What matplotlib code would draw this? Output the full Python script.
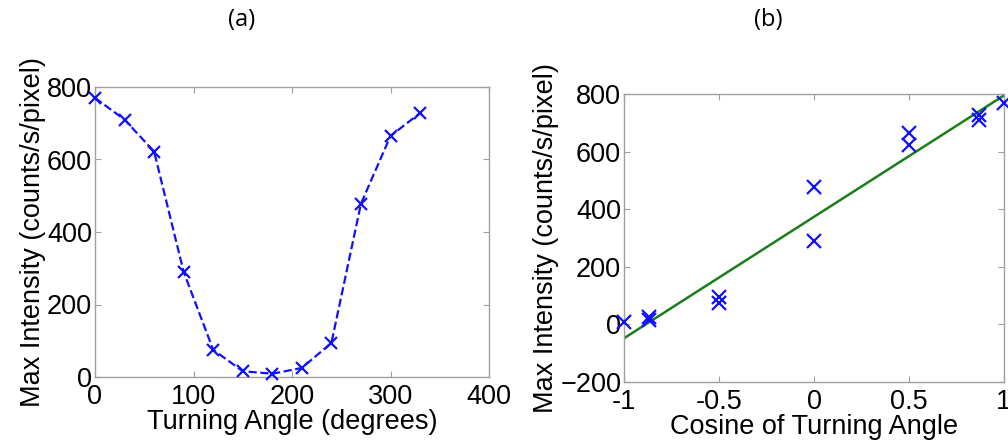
import numpy as np
import matplotlib
matplotlib.use("Agg")
import matplotlib.pyplot as plt

# Data
angles_deg = [0, 30, 60, 90, 120, 150, 180, 210, 240, 270, 300, 330]
intensity = [770, 710, 622, 290, 75, 16, 9, 25, 94, 478, 665, 728]
cos_angle = np.cos(np.deg2rad(angles_deg))

xticks_a = [0, 100, 200, 300, 400]
yticks_a = [0, 200, 400, 600, 800]
xticks_b = [-1, -0.5, 0, 0.5, 1]
xticklabels_b = ["-1", "-0.5", "0", "0.5", "1"]
yticks_b = [-200, 0, 200, 400, 600, 800]

plt.rcParams['font.family'] = ['Liberation Sans', 'DejaVu Sans']

fig = plt.figure(figsize=(10.08, 4.4), dpi=100)
W, H = 1008, 440

def add_ax(x0, x1, y0, y1):
    return fig.add_axes([x0 / W, (H - y1) / H, (x1 - x0) / W, (y1 - y0) / H])

axa = add_ax(95, 489, 87, 377)
axb = add_ax(624, 1004, 94, 382)

blue = '#1010ff'
green = '#1a7f1a'

axa.plot(angles_deg, intensity, linestyle='--', color=blue, lw=1.6,
         marker='x', markersize=9, markeredgewidth=1.6, clip_on=False, zorder=3)
axa.set_xlim(0, 400)
axa.set_ylim(0, 800)
axa.set_xticks(xticks_a)
axa.set_yticks(yticks_a)

axb.plot(cos_angle, intensity, linestyle='none', color=blue,
         marker='x', markersize=10, markeredgewidth=1.6, clip_on=False, zorder=3)
slope, icpt = np.polyfit(cos_angle, intensity, 1)
xf = np.array([-1.0, 1.0])
axb.plot(xf, slope * xf + icpt, color=green, lw=1.8, zorder=2)
axb.set_xlim(-1, 1)
axb.set_ylim(-200, 800)
axb.set_xticks(xticks_b)
axb.set_xticklabels(xticklabels_b)
axb.set_yticks(yticks_b)

fs = 19.5
for ax in (axa, axb):
    for s in ax.spines.values():
        s.set_color('#a0a0a0')
        s.set_linewidth(1.0)
    ax.tick_params(direction='in', length=4, width=0.8, color='#a0a0a0',
                   top=True, right=True, labelsize=fs, labelcolor='black')
    ax.tick_params(axis='x', pad=5)
    ax.tick_params(axis='y', pad=2)

axa.set_xlabel('Turning Angle (degrees)', fontsize=fs, labelpad=-1)
axa.set_ylabel('Max Intensity (counts/s/pixel)', fontsize=fs, labelpad=1)
axb.set_xlabel('Cosine of Turning Angle', fontsize=fs, labelpad=-1)
axb.set_ylabel('Max Intensity (counts/s/pixel)', fontsize=fs, labelpad=1)

fig.text(242 / W, 1 - 20 / H, '(a)', ha='center', va='center', fontsize=17,
         family=['Open Sans', 'DejaVu Sans'])
fig.text(768 / W, 1 - 20 / H, '(b)', ha='center', va='center', fontsize=17,
         family=['Open Sans', 'DejaVu Sans'])

fig.savefig('out.png', dpi=100)
